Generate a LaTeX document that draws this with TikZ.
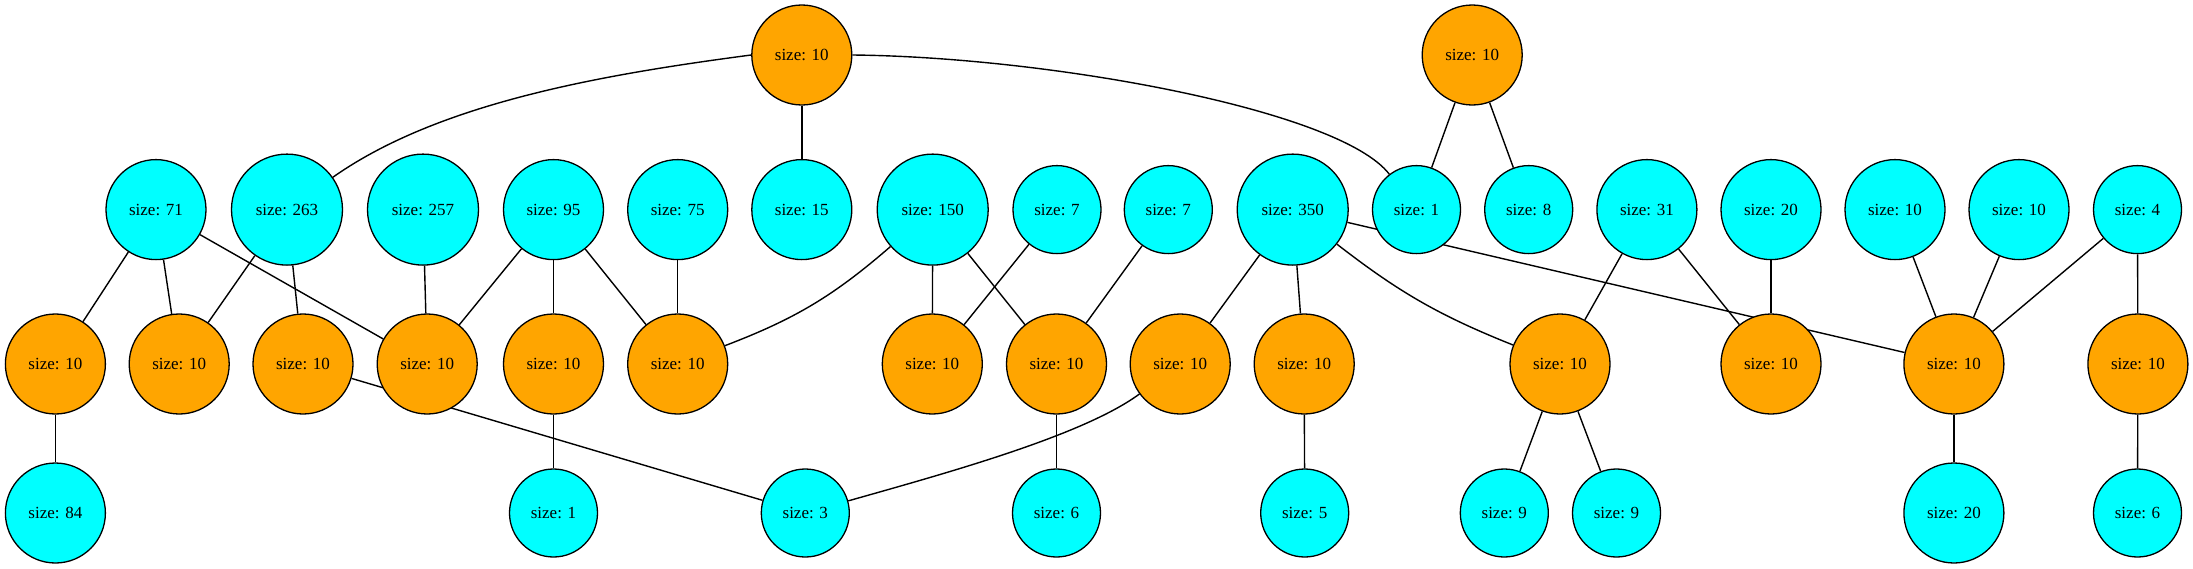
\documentclass[tikz,border=0pt]{standalone}
\usepackage{fontspec}
\setmainfont{Liberation Serif}
\usepackage{tikz}
\usetikzlibrary{backgrounds}

\begin{document}
\begin{tikzpicture}[x=1pt, y=-1pt, line width=1.4pt,
    blob/.style={circle, draw=black, line width=1.3pt, inner sep=0pt, font=\fontsize{17}{20}\selectfont},
    org/.style={blob, fill={rgb,255:red,255;green,165;blue,0}, minimum size=100pt},
    cyn/.style={blob, fill={rgb,255:red,0;green,255;blue,255}, minimum size=100pt},
    onedig/.style={minimum size=88pt},
    threedig/.style={minimum size=111pt}]
          \useasboundingbox (0,0) rectangle (2193,568);

          % Top row
          \node[org] (oa) at (801.8,55) {size: 10};
          \node[org] (ob) at (1472.2,55) {size: 10};

          % Second row
          \node[cyn] (c71) at (156,209.6) {size: 71};
          \node[cyn, threedig] (c263) at (287,209.6) {size: 263};
          \node[cyn, threedig] (c257) at (423,209.6) {size: 257};
          \node[cyn] (c95) at (553.5,209.6) {size: 95};
          \node[cyn] (c75) at (677.7,209.6) {size: 75};
          \node[cyn] (c15) at (801.8,209.6) {size: 15};
          \node[cyn, threedig] (c150) at (932.7,209.6) {size: 150};
          \node[cyn, onedig] (c7a) at (1057,209.6) {size: 7};
          \node[cyn, onedig] (c7b) at (1168.3,209.6) {size: 7};
          \node[cyn, threedig] (c350) at (1292.7,209.6) {size: 350};
          \node[cyn, onedig] (c1a) at (1416.5,209.6) {size: 1};
          \node[cyn, onedig] (c8) at (1528.7,209.6) {size: 8};
          \node[cyn] (c31) at (1646.9,209.6) {size: 31};
          \node[cyn] (c20a) at (1771,209.6) {size: 20};
          \node[cyn] (c10a) at (1895,209.6) {size: 10};
          \node[cyn] (c10b) at (2019,209.6) {size: 10};
          \node[cyn, onedig] (c4) at (2137.5,209.6) {size: 4};

          % Third row
          \node[org] (o1) at (55.4,364) {size: 10};
          \node[org] (o2) at (179.2,364) {size: 10};
          \node[org] (o3) at (303,364) {size: 10};
          \node[org] (o4) at (427.2,364) {size: 10};
          \node[org] (o5) at (553.5,364) {size: 10};
          \node[org] (o6) at (677.7,364) {size: 10};
          \node[org] (o7) at (932.3,364) {size: 10};
          \node[org] (o8) at (1056.5,364) {size: 10};
          \node[org] (o9) at (1180.2,364) {size: 10};
          \node[org] (o10) at (1304.2,364) {size: 10};
          \node[org] (o11) at (1560,364) {size: 10};
          \node[org] (o12) at (1771,364) {size: 10};
          \node[org] (o13) at (1953.9,364) {size: 10};
          \node[org] (o14) at (2137.9,364) {size: 10};

          % Bottom row
          \node[cyn] (c84) at (55.4,513) {size: 84};
          \node[cyn, onedig] (c1b) at (553.5,513) {size: 1};
          \node[cyn, onedig] (c3) at (805.3,513) {size: 3};
          \node[cyn, onedig] (c6a) at (1056.5,513) {size: 6};
          \node[cyn, onedig] (c5) at (1304.7,513) {size: 5};
          \node[cyn, onedig] (c9a) at (1504.3,513) {size: 9};
          \node[cyn, onedig] (c9b) at (1616.5,513) {size: 9};
          \node[cyn] (c20b) at (1953.9,513) {size: 20};
          \node[cyn, onedig] (c6b) at (2137.5,513) {size: 6};

          % Edges, behind the nodes
          \begin{scope}[on background layer]
          \begin{scope}[line width=1.4pt]
          \draw (oa.west) .. controls (601.7,74.7) and (438.3,102.9) .. (c263);
          \draw (oa) -- (c15);
          \draw (oa.east) .. controls (1050,57) and (1340,110) .. (c1a);
          \draw (ob) -- (c1a);
          \draw (ob) -- (c8);

          \draw (c71) -- (o1);
          \draw (c71) -- (o2);
          \draw (c71) -- (o4);
          \draw (c263) -- (o2);
          \draw (c263) -- (o3);
          \draw (c257) -- (o4);
          \draw (c95) -- (o4);
          \draw (c95) -- (o5);
          \draw (c95) -- (o6);
          \draw (c75) -- (o6);
          \draw (c150) to[bend left=10] (o6);
          \draw (c150) -- (o7);
          \draw (c150) -- (o8);
          \draw (c7a) -- (o7);
          \draw (c7b) -- (o8);
          \draw (c350) -- (o9);
          \draw (c350) -- (o10);
          \draw (c350) to[bend right=8] (o11);
          \draw (c350) -- (o13);
          \draw (c31) -- (o11);
          \draw (c31) -- (o12);
          \draw (c20a) -- (o12);
          \draw (c10a) -- (o13);
          \draw (c10b) -- (o13);
          \draw (c4) -- (o13);
          \draw (c4) -- (o14);

          \draw (o1) -- (c84);
          \draw (o3) -- (c3);
          \draw (o5) -- (c1b);
          \draw (o8) -- (c6a);
          \draw (o9) .. controls (1083.3,435.3) and (949.3,472.3) .. (c3);
          \draw (o10) -- (c5);
          \draw (o11) -- (c9a);
          \draw (o11) -- (c9b);
          \draw (o13) -- (c20b);
          \draw (o14) -- (c6b);
          \end{scope}
          \end{scope}

        \end{tikzpicture}
\end{document}
